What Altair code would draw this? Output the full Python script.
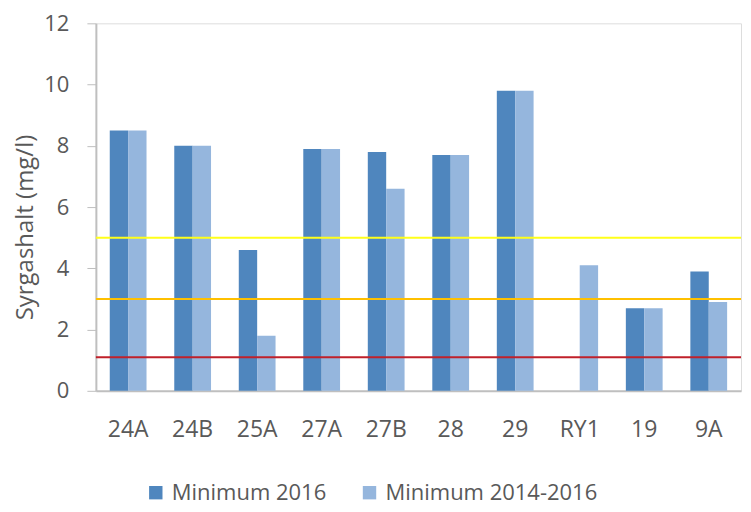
import altair as alt
import pandas as pd

categories = ["24A", "24B", "25A", "27A", "27B", "28", "29", "RY1", "19", "9A"]
min_2016 = [8.5, 8.0, 4.6, 7.9, 7.8, 7.7, 9.8, None, 2.7, 3.9]
min_2014_2016 = [8.5, 8.0, 1.8, 7.9, 6.6, 7.7, 9.8, 4.1, 2.7, 2.9]
series_names = ["Minimum 2016", "Minimum 2014-2016"]
series_colors = ["#4F86BE", "#95B6DD"]
thresholds = [5.0, 3.0, 1.1]
threshold_colors = ["#FFFF1A", "#FFC000", "#C0202A"]

rows = []
for c, a, b in zip(categories, min_2016, min_2014_2016):
    rows.append({"station": c, "serie": series_names[0], "value": a})
    rows.append({"station": c, "serie": series_names[1], "value": b})
df = pd.DataFrame(rows)
th = pd.DataFrame({"v": thresholds, "col": threshold_colors})

FONT = "Open Sans"
TXT = "#595959"

bars = alt.Chart(df).mark_bar().encode(
    x=alt.X("station:N", sort=categories,
            scale=alt.Scale(paddingInner=0.43, paddingOuter=0.215),
            axis=alt.Axis(title=None, labelAngle=0, ticks=False, labelPadding=28,
                          labelFontSize=23, labelFont=FONT, labelColor=TXT,
                          domainColor="#BFBFBF", domainWidth=2)),
    xOffset=alt.XOffset("serie:N", sort=series_names),
    y=alt.Y("value:Q", scale=alt.Scale(domain=[0, 12]),
            axis=alt.Axis(values=[0, 2, 4, 6, 8, 10, 12], grid=False, tickSize=9,
                          tickColor="#BFBFBF", domainColor="#BFBFBF", domainWidth=2,
                          labelPadding=18, labelFontSize=22, labelFont=FONT,
                          labelColor=TXT, title="Syrgashalt (mg/l)",
                          titleFontSize=24, titleFont=FONT, titleFontWeight="normal",
                          titleColor=TXT, titleX=-70, titleY=204,
                          titleBaseline="middle")),
    color=alt.Color("serie:N", sort=series_names,
                    scale=alt.Scale(domain=series_names, range=series_colors),
                    legend=alt.Legend(title=None, orient="none", direction="horizontal",
                                      legendX=49, legendY=459, symbolType="square",
                                      symbolSize=180, symbolStrokeWidth=0,
                                      labelFontSize=22, labelFont=FONT, labelColor=TXT,
                                      labelLimit=0, columnPadding=32, labelOffset=5)),
)

rules = alt.Chart(th).mark_rule(strokeWidth=2).encode(
    y=alt.Y("v:Q"),
    color=alt.Color("col:N", scale=None),
)

chart = alt.layer(bars, rules).properties(
    width=646, height=368,
    autosize=alt.AutoSizeParams(type="none"),
    padding={"left": 88, "top": 15, "right": 2, "bottom": 120},
).configure_view(stroke=None).configure(background="white")

chart.save("out.html", embed_options={"renderer": "svg", "actions": False})
